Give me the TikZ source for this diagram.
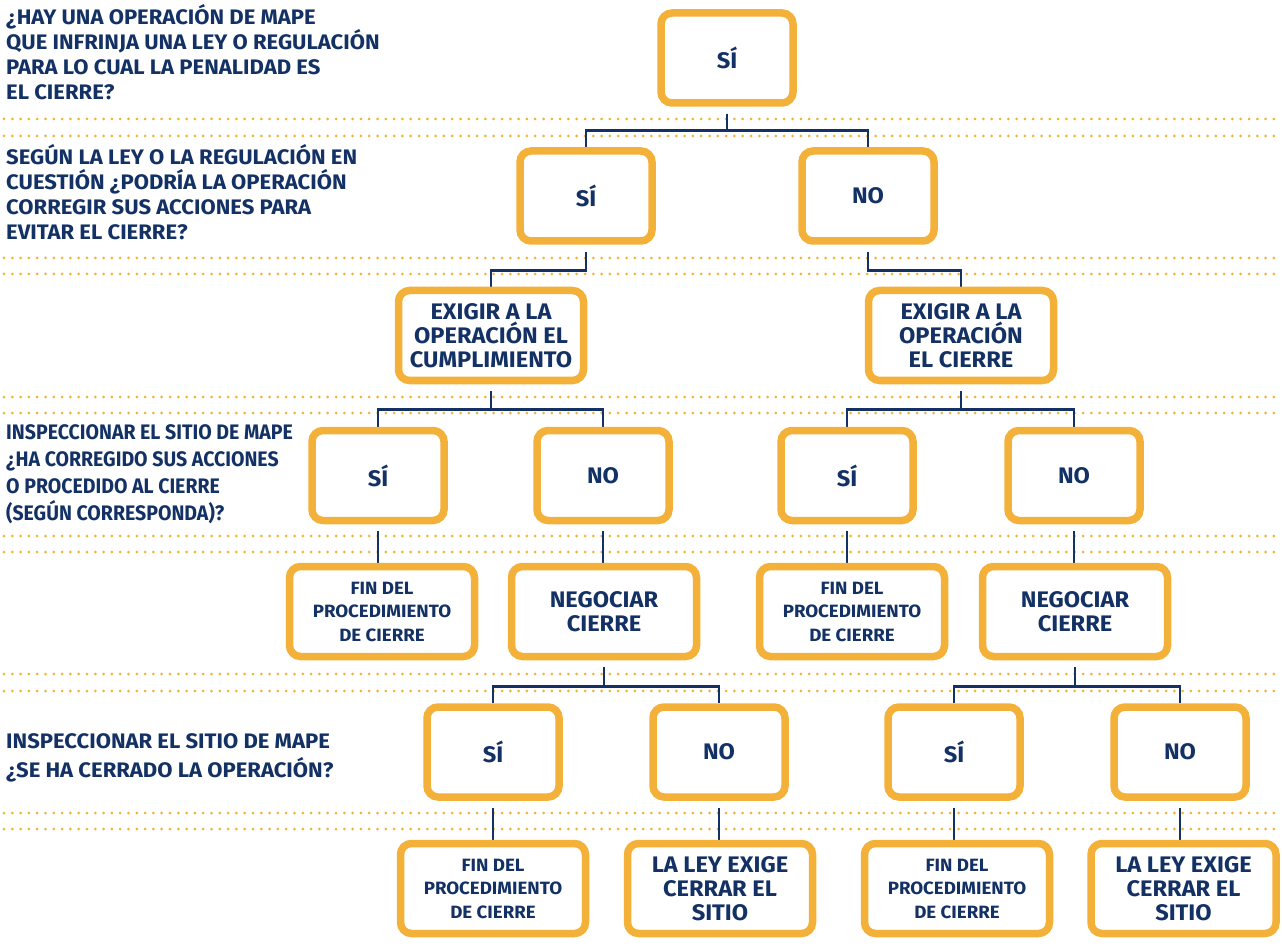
\documentclass[tikz,border=0pt]{standalone}
\usepackage{fontspec}
\setmainfont{Fira Sans}
\newfontfamily\condfont{Fira Sans}[FakeStretch=1.05]
\newfontfamily\tightfont{Fira Sans}[FakeStretch=0.93]
\usetikzlibrary{calc,backgrounds}
\definecolor{mapenavy}{RGB}{19,49,100}
\definecolor{mapegold}{RGB}{243,177,58}
\tikzset{
  box/.style={draw=mapegold, line width=7.5pt, rounded corners=11pt, fill=white, text=mapenavy,
    font=\condfont\bfseries\fontsize{22.5}{24}\selectfont, align=center,
    minimum width=132pt, minimum height=90pt, inner sep=0pt},
  widebox/.style={box, minimum width=185pt},
  smallbox/.style={widebox, font=\condfont\bfseries\fontsize{17.8}{23.5}\selectfont},
  question/.style={anchor=base west, align=left, inner sep=0pt, text=mapenavy,
    font=\condfont\bfseries\fontsize{21}{25}\selectfont},
  link/.style={draw=mapenavy, line width=2.6pt},
  dots/.style={draw=mapegold, line width=3pt, line cap=round, dash pattern=on 0pt off 8.3pt}
}

\begin{document}
\begin{tikzpicture}[x=1pt, y=-1pt]
    \useasboundingbox (0,0) rectangle (1282,949);
    % questions on the left (placed at the baseline of their last line)
    \node [question] (q1) at (6,100) {¿HAY UNA OPERACIÓN DE MAPE\\QUE INFRINJA UNA LEY O REGULACIÓN\\PARA LO CUAL LA PENALIDAD ES\\EL CIERRE?};
    \node [question] (q2) at (6,240) {SEGÚN LA LEY O LA REGULACIÓN EN\\CUESTIÓN ¿PODRÍA LA OPERACIÓN\\CORREGIR SUS ACCIONES PARA\\EVITAR EL CIERRE?};
    \node [question, font=\tightfont\bfseries\fontsize{21}{26.7}\selectfont] (q3) at (6,520) {INSPECCIONAR EL SITIO DE MAPE\\¿HA CORREGIDO SUS ACCIONES\\O PROCEDIDO AL CIERRE\\(SEGÚN CORRESPONDA)?};
    \node [question, font=\condfont\bfseries\fontsize{21}{29}\selectfont] (q4) at (6,777) {INSPECCIONAR EL SITIO DE MAPE\\¿SE HA CERRADO LA OPERACIÓN?};
    % the tree
    \node [box] (t) at (727,58) {SÍ};
    \node [box] (s1) at (586,196) {SÍ};
    \node [box] (n1) at (868,196) {NO};
    \node [widebox] (c2) at (491,335.5) {EXIGIR A LA\\OPERACIÓN EL\\CUMPLIMIENTO};
    \node [widebox] (k2) at (961,335.5) {EXIGIR A LA\\OPERACIÓN\\EL CIERRE};
    \node [box] (s3a) at (378,475.5) {SÍ};
    \node [box] (n3a) at (603,475.5) {NO};
    \node [box] (s3b) at (847,475.5) {SÍ};
    \node [box] (n3b) at (1074,475.5) {NO};
    \node [smallbox] (f4a) at (382,611.5) {FIN DEL\\PROCEDIMIENTO\\DE CIERRE};
    \node [widebox] (g4a) at (604,611.5) {NEGOCIAR\\CIERRE};
    \node [smallbox] (f4b) at (852,611.5) {FIN DEL\\PROCEDIMIENTO\\DE CIERRE};
    \node [widebox] (g4b) at (1075,611.5) {NEGOCIAR\\CIERRE};
    \node [box] (s5a) at (493,752) {SÍ};
    \node [box] (n5a) at (719,752) {NO};
    \node [box] (s5b) at (954,752) {SÍ};
    \node [box] (n5b) at (1180,752) {NO};
    \node [smallbox] (f6a) at (493,888.5) {FIN DEL\\PROCEDIMIENTO\\DE CIERRE};
    \node [widebox] (l6a) at (720,888.5) {LA LEY EXIGE\\CERRAR EL\\SITIO};
    \node [smallbox] (f6b) at (957,888.5) {FIN DEL\\PROCEDIMIENTO\\DE CIERRE};
    \node [widebox] (l6b) at (1183.5,888.5) {LA LEY EXIGE\\CERRAR EL\\SITIO};
    \begin{pgfonlayer}{background}
      \foreach \y in {119,136,258,274,397,413,536,552,674,691,813,829}
        \draw [dots] (4,\y) -- (1282,\y);
      \draw [link] ([yshift=-7pt]t.south) -- ++(0,17) -| (s1.north);
      \draw [link] ([yshift=-7pt]t.south) -- ++(0,17) -| (n1.north);
      \draw [link] ([yshift=-7pt]s1.south) -- ++(0,18.5) -| (c2.north);
      \draw [link] ([yshift=-7pt]n1.south) -- ++(0,18.5) -| (k2.north);
      \draw [link] ([yshift=-7pt]c2.south) -- ++(0,18) -| (s3a.north);
      \draw [link] ([yshift=-7pt]c2.south) -- ++(0,18) -| (n3a.north);
      \draw [link] ([yshift=-7pt]k2.south) -- ++(0,18) -| (s3b.north);
      \draw [link] ([yshift=-7pt]k2.south) -- ++(0,18) -| (n3b.north);
      \draw [link] ([yshift=-7pt]s3a.south) -- (s3a.south |- f4a.north);
      \draw [link] ([yshift=-7pt]n3a.south) -- (n3a.south |- g4a.north);
      \draw [link] ([yshift=-7pt]s3b.south) -- (s3b.south |- f4b.north);
      \draw [link] ([yshift=-7pt]n3b.south) -- (n3b.south |- g4b.north);
      \draw [link] ([yshift=-7pt]g4a.south) -- ++(0,19) -| (s5a.north);
      \draw [link] ([yshift=-7pt]g4a.south) -- ++(0,19) -| (n5a.north);
      \draw [link] ([yshift=-7pt]g4b.south) -- ++(0,19) -| (s5b.north);
      \draw [link] ([yshift=-7pt]g4b.south) -- ++(0,19) -| (n5b.north);
      \draw [link] ([yshift=-7pt]s5a.south) -- (s5a.south |- f6a.north);
      \draw [link] ([yshift=-7pt]n5a.south) -- (n5a.south |- l6a.north);
      \draw [link] ([yshift=-7pt]s5b.south) -- (s5b.south |- f6b.north);
      \draw [link] ([yshift=-7pt]n5b.south) -- (n5b.south |- l6b.north);
    \end{pgfonlayer}
\end{tikzpicture}
\end{document}
